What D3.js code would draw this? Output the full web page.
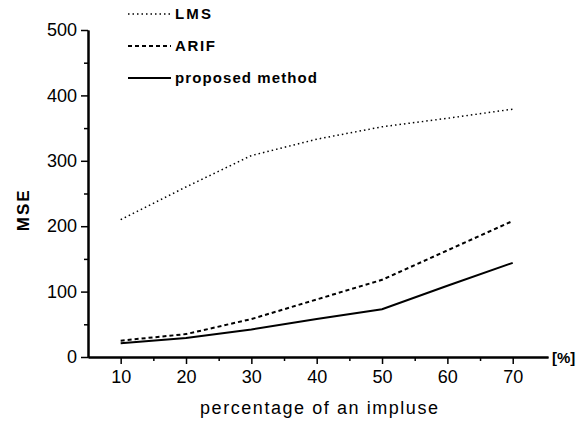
<!DOCTYPE html>
<html>
<head>
<meta charset="utf-8">
<script src="https://cdn.jsdelivr.net/npm/d3@7"></script>
<style>
  html, body { margin: 0; padding: 0; background: #fff; }
  svg { display: block; }
  text { font-family: "Liberation Sans", Arial, sans-serif; fill: #000; }
</style>
</head>
<body>
<div id="chart"></div>
<script>
// Impulse noise percentage on the x axis
const percentages = [10, 20, 30, 40, 50, 60, 70];

// Mean squared error for each filter
const lmsValues = [210, 260, 308, 333, 352, 365, 379];
const arifValues = [25, 35, 58, 88, 118, 163, 208];
const proposedValues = [21, 29, 42, 58, 73, 109, 144];

const xTickValues = [10, 20, 30, 40, 50, 60, 70];
const yTickValues = [0, 100, 200, 300, 400, 500];

const seriesNames = ["LMS", "ARIF", "proposed method"];

const width = 582, height = 423;
const margin = { left: 88, top: 30, right: 34, bottom: 66 };

const svg = d3.select("#chart").append("svg")
  .attr("width", width).attr("height", height);

const x = d3.scaleLinear().domain([5, 75.4]).range([margin.left, width - margin.right]);
const y = d3.scaleLinear().domain([0, 500]).range([height - margin.bottom, margin.top]);

// Axes: major ticks with labels, minor ticks in between
const xAxis = d3.axisBottom(x).tickValues(xTickValues).tickSize(7).tickPadding(6).tickSizeOuter(0);
const xMinor = d3.axisBottom(x).tickValues([15, 25, 35, 45, 55, 65]).tickSize(4).tickFormat("").tickSizeOuter(0);
const yAxis = d3.axisLeft(y).tickValues(yTickValues).tickSize(7).tickPadding(4).tickSizeOuter(0);
const yMinor = d3.axisLeft(y).tickValues([50, 150, 250, 350, 450]).tickSize(4).tickFormat("").tickSizeOuter(0);

function styleAxis(g) {
  g.select(".domain").attr("stroke", "#000").attr("stroke-width", 2);
  g.selectAll(".tick line").attr("stroke", "#000").attr("stroke-width", 1.5);
  g.selectAll(".tick text").attr("font-size", 18).attr("fill", "#000")
    .attr("font-family", "'Liberation Sans', Arial, sans-serif");
}

svg.append("g").attr("transform", `translate(0,${y(0)})`).call(xMinor).call(styleAxis);
svg.append("g").attr("transform", `translate(0,${y(0)})`).call(xAxis).call(styleAxis);
svg.append("g").attr("transform", `translate(${margin.left},0)`).call(yMinor).call(styleAxis);
svg.append("g").attr("transform", `translate(${margin.left},0)`).call(yAxis).call(styleAxis);

// Unit label at the end of the x axis
svg.append("text")
  .attr("x", x(75.4) + 4).attr("y", y(0) + 6)
  .attr("font-size", 15).attr("font-weight", "bold")
  .text("[%]");

// Axis titles
svg.append("text")
  .attr("x", 319).attr("y", 414)
  .attr("text-anchor", "middle").attr("font-size", 18)
  .attr("textLength", 238).attr("lengthAdjust", "spacing")
  .text("percentage of an impluse");

svg.append("text")
  .attr("transform", `translate(29,${y(225)}) rotate(-90)`)
  .attr("text-anchor", "middle").attr("font-size", 17).attr("font-weight", "bold")
  .attr("letter-spacing", 2)
  .text("MSE");

// Series lines
const line = d3.line().x((d, i) => x(percentages[i])).y(d => y(d));

const series = [
  { name: seriesNames[0], values: lmsValues, dash: "1.5,3", width: 1.5, textLen: 36 },
  { name: seriesNames[1], values: arifValues, dash: "4,3", width: 2, textLen: 40 },
  { name: seriesNames[2], values: proposedValues, dash: null, width: 2, textLen: 142 }
];

series.forEach(s => {
  svg.append("path")
    .datum(s.values)
    .attr("fill", "none")
    .attr("stroke", "#000")
    .attr("stroke-width", s.width)
    .attr("stroke-dasharray", s.dash)
    .attr("d", line);
});

// Legend
const legend = svg.append("g");
const legendY = [14, 46, 78];
series.forEach((s, i) => {
  legend.append("line")
    .attr("x1", 128).attr("x2", 171)
    .attr("y1", legendY[i]).attr("y2", legendY[i])
    .attr("stroke", "#000").attr("stroke-width", s.width)
    .attr("stroke-dasharray", s.dash);
  legend.append("text")
    .attr("x", 175).attr("y", legendY[i] + 5)
    .attr("font-size", 15).attr("font-weight", "bold")
    .attr("textLength", s.textLen).attr("lengthAdjust", "spacing")
    .text(s.name);
});
</script>
</body>
</html>
